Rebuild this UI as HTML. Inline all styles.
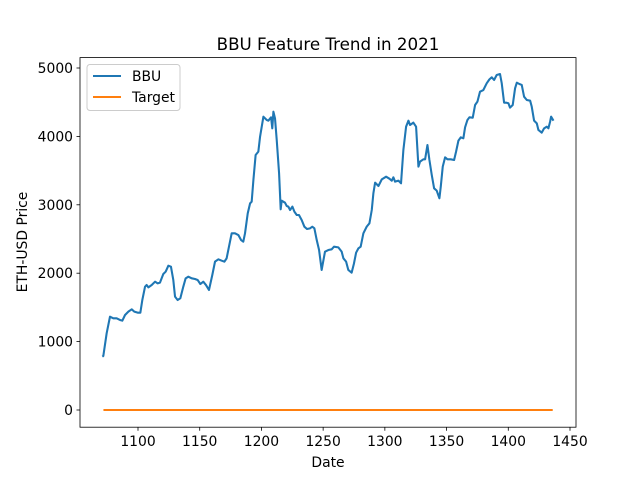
<!DOCTYPE html>
<html><head><meta charset="utf-8"><style>
body{margin:0;background:#fff;}
svg{font-family:"DejaVu Sans","Liberation Sans",sans-serif;}
</style></head><body>
<svg id="chart" width="640" height="480">
<rect x="0" y="0" width="640" height="480" fill="#fff"/>
<text x="328" y="50" font-size="16.7" text-anchor="middle">BBU Feature Trend in 2021</text>
<g id="plot"></g>
<rect x="80" y="57.6" width="496" height="369.6" fill="none" stroke="#000" stroke-width="0.8"/>
<text x="328" y="467" font-size="13.9" text-anchor="middle">Date</text>
<text x="27" y="242" font-size="13.9" text-anchor="middle" transform="rotate(-90 27 242)">ETH-USD Price</text>
<g>
<rect x="87" y="64.5" width="93" height="46" rx="3" fill="#fff" fill-opacity="0.8" stroke="#ccc"/>
<line x1="93" y1="76" x2="121" y2="76" stroke="#1f77b4" stroke-width="2.08"/>
<text x="132" y="81" font-size="13.9">BBU</text>
<line x1="93" y1="97" x2="121" y2="97" stroke="#ff7f0e" stroke-width="2.08"/>
<text x="132" y="102" font-size="13.9">Target</text>
</g>
</svg>
<script>
const dates=[1071.1,1071.9,1074.6,1077.3,1080.0,1082.7,1085.4,1087.3,1089.5,1092.2,1094.9,1097.0,1099.7,1101.9,1103.5,1105.7,1107.0,1108.4,1111.1,1113.8,1115.9,1117.8,1120.5,1122.4,1124.6,1126.7,1128.6,1130.0,1132.1,1134.3,1136.7,1138.6,1140.8,1143.5,1146.2,1148.3,1150.5,1152.9,1155.1,1157.5,1160.2,1162.4,1165.1,1167.8,1170.0,1171.8,1173.7,1175.9,1178.6,1181.3,1183.5,1185.3,1186.7,1188.9,1190.8,1192.1,1193.5,1195.3,1197.5,1198.9,1201.6,1204.3,1205.6,1207.8,1208.8,1209.7,1211.0,1212.4,1214.3,1215.6,1216.4,1219.1,1220.5,1221.8,1223.2,1225.1,1226.7,1228.6,1230.4,1232.6,1234.8,1236.9,1239.4,1241.2,1242.9,1244.8,1246.7,1248.8,1251.5,1254.2,1256.9,1258.8,1262.3,1265.0,1266.4,1268.6,1270.4,1273.1,1275.0,1276.7,1278.6,1280.4,1282.6,1285.3,1287.5,1289.4,1290.7,1292.1,1294.8,1297.5,1301.0,1303.7,1305.6,1306.9,1308.3,1311.0,1313.1,1315.0,1317.2,1319.1,1320.4,1323.1,1325.3,1327.2,1328.5,1331.2,1332.6,1334.5,1336.1,1338.0,1339.9,1342.0,1344.2,1345.3,1346.9,1348.8,1350.7,1353.4,1356.1,1357.7,1359.6,1361.5,1363.6,1365.0,1366.9,1368.5,1371.2,1373.1,1375.0,1377.1,1379.8,1382.5,1384.7,1386.6,1388.5,1390.6,1393.3,1394.7,1396.6,1398.2,1400.1,1401.4,1403.6,1405.5,1406.9,1409.0,1410.9,1412.8,1415.0,1417.7,1419.0,1420.9,1423.1,1424.4,1427.1,1429.0,1431.2,1432.5,1433.9,1434.7,1436.6];
const bbu=[780,790,1121,1364,1340,1340,1316,1306,1389,1438,1472,1438,1423,1423,1608,1803,1827,1793,1827,1876,1852,1862,1988,2022,2110,2095,1901,1657,1608,1633,1803,1925,1949,1925,1915,1901,1842,1876,1827,1754,1974,2169,2203,2183,2169,2217,2388,2583,2583,2558,2485,2461,2583,2875,3021,3046,3363,3728,3777,3996,4288,4240,4230,4279,4118,4361,4264,3947,3460,2934,3060,3031,2982,2973,2924,2973,2900,2851,2851,2778,2680,2646,2656,2680,2656,2485,2339,2047,2315,2339,2349,2388,2378,2315,2218,2169,2047,2008,2144,2300,2364,2388,2583,2681,2729,2924,3168,3324,3275,3372,3411,3382,3353,3402,3338,3353,3314,3801,4142,4230,4167,4201,4142,3558,3631,3665,3665,3874,3655,3436,3241,3207,3095,3265,3558,3694,3665,3665,3655,3777,3938,3986,3972,4133,4240,4279,4274,4459,4508,4654,4678,4776,4834,4864,4825,4898,4912,4776,4493,4493,4484,4420,4459,4703,4786,4766,4752,4581,4532,4522,4435,4230,4191,4094,4055,4118,4142,4118,4216,4289,4230];
const targetDates=[1072,1436];
const targetValues=[0,0];
const xTicks=[1100,1150,1200,1250,1300,1350,1400,1450];
const yTicks=[0,1000,2000,3000,4000,5000];

const NS="http://www.w3.org/2000/svg";
const X=v=>138+(v-1100)*(432/350);
const Y=v=>410-v*(342/5000);
const g=document.getElementById('plot');
function mk(t,a){const e=document.createElementNS(NS,t);for(const k in a)e.setAttribute(k,a[k]);g.appendChild(e);return e;}

xTicks.forEach(t=>{
  const l=mk('line',{x1:X(t),x2:X(t),y1:427.2,y2:430.7,stroke:'#000','stroke-width':0.8});
  
  
  const tx=mk('text',{x:X(t),y:446,'font-size':13.9,'text-anchor':'middle'});
  tx.textContent=t;
  
  
});
yTicks.forEach(t=>{
  const l=mk('line',{x1:76.5,x2:80,y1:Y(t),y2:Y(t),stroke:'#000','stroke-width':0.8});
  
  
  const tx=mk('text',{x:73,y:Y(t)+5,'font-size':13.9,'text-anchor':'end'});
  tx.textContent=t;
  
  
});
const p1=mk('polyline',{points:dates.map((d,i)=>X(d)+','+Y(bbu[i])).join(' '),fill:'none',stroke:'#1f77b4','stroke-width':2.08,'stroke-linejoin':'round'});


const p2=mk('polyline',{points:targetDates.map((d,i)=>X(d)+','+Y(targetValues[i])).join(' '),fill:'none',stroke:'#ff7f0e','stroke-width':2.08});


</script>
</body></html>
